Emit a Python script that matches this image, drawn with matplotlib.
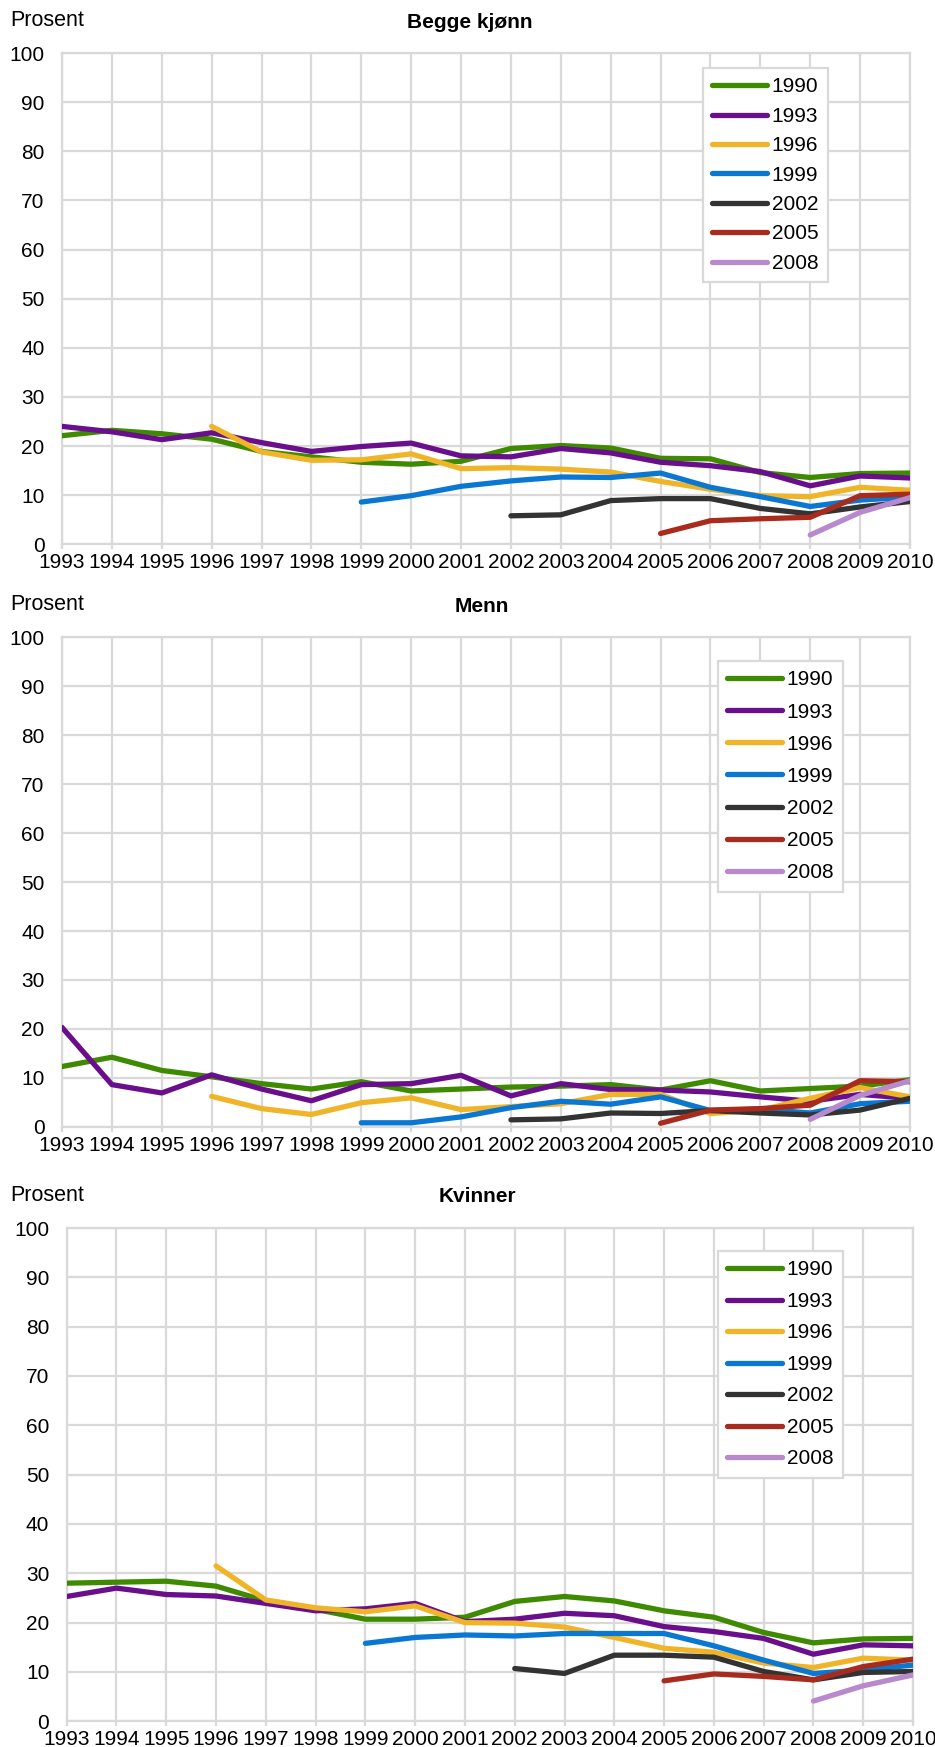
import matplotlib
matplotlib.use("Agg")
import matplotlib.pyplot as plt


# ---------- Data ----------
years = list(range(1993, 2011))
cohorts = ["1990", "1993", "1996", "1999", "2002", "2005", "2008"]
cohort_start = [1993, 1993, 1996, 1999, 2002, 2005, 2008]
colors = ["#3e8a00", "#6a0f8c", "#f0b428", "#0a78d2", "#333333", "#a82b1e", "#b889cc"]

# Begge kjønn
both_1990 = [22.1, 23.2, 22.5, 21.4, 18.9, 17.8, 16.7, 16.3, 16.9, 19.5, 20.1, 19.6, 17.5, 17.4, 14.6, 13.6, 14.4, 14.5]
both_1993 = [24.0, 22.9, 21.3, 22.7, 20.7, 18.9, 19.9, 20.6, 18.0, 17.8, 19.5, 18.6, 16.7, 16.0, 14.8, 11.9, 13.9, 13.5]
both_1996 = [24.0, 18.8, 17.1, 17.2, 18.4, 15.4, 15.6, 15.3, 14.7, 12.8, 11.2, 9.9, 9.7, 11.6, 11.0]
both_1999 = [8.6, 9.9, 11.8, 12.9, 13.7, 13.6, 14.5, 11.6, 9.7, 7.7, 9.0, 9.6]
both_2002 = [5.8, 6.0, 8.9, 9.3, 9.3, 7.3, 6.2, 7.6, 8.7]
both_2005 = [2.2, 4.8, 5.2, 5.5, 9.9, 10.2]
both_2008 = [1.9, 6.5, 9.5]

# Menn
men_1990 = [12.3, 14.2, 11.5, 10.2, 8.8, 7.7, 9.2, 7.3, 7.7, 8.1, 8.3, 8.6, 7.5, 9.4, 7.3, 7.8, 8.3, 9.6]
men_1993 = [20.3, 8.6, 6.9, 10.6, 7.7, 5.3, 8.6, 8.8, 10.5, 6.3, 8.8, 7.6, 7.5, 7.1, 6.1, 5.2, 6.6, 5.8]
men_1996 = [6.2, 3.7, 2.5, 4.9, 5.9, 3.5, 4.1, 4.7, 6.6, 6.6, 2.7, 3.4, 5.8, 8.0, 6.1]
men_1999 = [0.8, 0.8, 2.0, 3.9, 5.2, 4.6, 6.1, 3.3, 3.6, 2.8, 4.7, 5.2]
men_2002 = [1.4, 1.6, 2.8, 2.7, 3.3, 2.8, 2.4, 3.4, 5.8]
men_2005 = [0.7, 3.4, 3.7, 4.4, 9.4, 9.2]
men_2008 = [1.5, 6.4, 9.4]

# Kvinner
women_1990 = [28.0, 28.2, 28.4, 27.4, 24.4, 22.7, 20.7, 20.7, 21.1, 24.3, 25.3, 24.4, 22.4, 21.1, 18.0, 15.9, 16.7, 16.8]
women_1993 = [25.3, 27.0, 25.7, 25.4, 23.9, 22.4, 22.8, 23.9, 20.2, 20.7, 21.9, 21.4, 19.2, 18.2, 16.8, 13.6, 15.5, 15.3]
women_1996 = [31.5, 24.6, 23.0, 22.2, 23.4, 20.0, 19.9, 19.1, 17.0, 14.8, 14.0, 11.8, 10.9, 12.8, 12.4]
women_1999 = [15.8, 17.0, 17.5, 17.3, 17.8, 17.8, 17.8, 15.3, 12.4, 9.7, 10.4, 11.4]
women_2002 = [10.7, 9.7, 13.4, 13.4, 13.0, 10.1, 8.4, 9.9, 10.1]
women_2005 = [8.2, 9.6, 9.1, 8.4, 11.1, 12.6]
women_2008 = [4.1, 7.2, 9.4]

panel_titles = ["Begge kjønn", "Menn", "Kvinner"]
panel_data = [
    [both_1990, both_1993, both_1996, both_1999, both_2002, both_2005, both_2008],
    [men_1990, men_1993, men_1996, men_1999, men_2002, men_2005, men_2008],
    [women_1990, women_1993, women_1996, women_1999, women_2002, women_2005, women_2008],
]

# ---------- Layout (pixels of the 935x1747 picture) ----------
W, H = 935, 1747
# left, right, top, bottom of each plot area
boxes = [(62, 910, 53, 544.3), (62, 910, 637.5, 1126.7), (66.7, 913, 1228, 1721.3)]
title_x = [470, 482, 477]  # centre of the bold titles
# upper left corner of each legend, and spacing between its rows
legend_pos = [(703, 68), (718, 661), (718, 1251)]
legend_spacing = [0.5, 0.63, 0.6]

grid_color = "#d9d9d9"

plt.rcParams['font.family'] = ['Liberation Sans', 'DejaVu Sans']

fig = plt.figure(figsize=(W / 100, H / 100), dpi=100)

for p in range(3):
    left, right, top, bottom = boxes[p]
    ax = fig.add_axes([left / W, 1 - bottom / H, (right - left) / W, (bottom - top) / H])

    for i in range(len(cohorts)):
        xs = years[years.index(cohort_start[i]):]
        ax.plot(xs, panel_data[p][i], color=colors[i], linewidth=3.8,
                solid_capstyle="round", solid_joinstyle="round", label=cohorts[i], zorder=3)

    ax.set_xlim(1993, 2010)
    ax.set_ylim(0, 100)
    ax.set_xticks(years)
    ax.set_yticks(range(0, 101, 10))
    ax.grid(True, color=grid_color, linewidth=1.6)
    ax.set_axisbelow(True)
    for s in ax.spines.values():
        s.set_color(grid_color)
        s.set_linewidth(1.6)

    ax.tick_params(axis="x", length=3.5, width=1.6, color=grid_color, pad=3, labelsize=15)
    ax.tick_params(axis="y", length=0, pad=12.5, labelsize=15)

    # Header texts
    fig.text(10 / W, 1 - (top - 32.5) / H, "Prosent", fontsize=15.5, ha="left", va="center")
    fig.text(title_x[p] / W, 1 - (top - 31) / H, panel_titles[p],
             fontsize=15, fontweight="bold", ha="center", va="center")

    lx, ly = legend_pos[p]
    leg = ax.legend(loc="upper left", bbox_to_anchor=(lx / W, 1 - ly / H), bbox_transform=fig.transFigure,
                    borderaxespad=0, fontsize=15, handlelength=2.6, handletextpad=0.25,
                    labelspacing=legend_spacing[p], borderpad=0.45, fancybox=False, framealpha=1)
    leg.get_frame().set_edgecolor(grid_color)
    leg.get_frame().set_linewidth(1.6)

fig.savefig("out.png", dpi=100)
